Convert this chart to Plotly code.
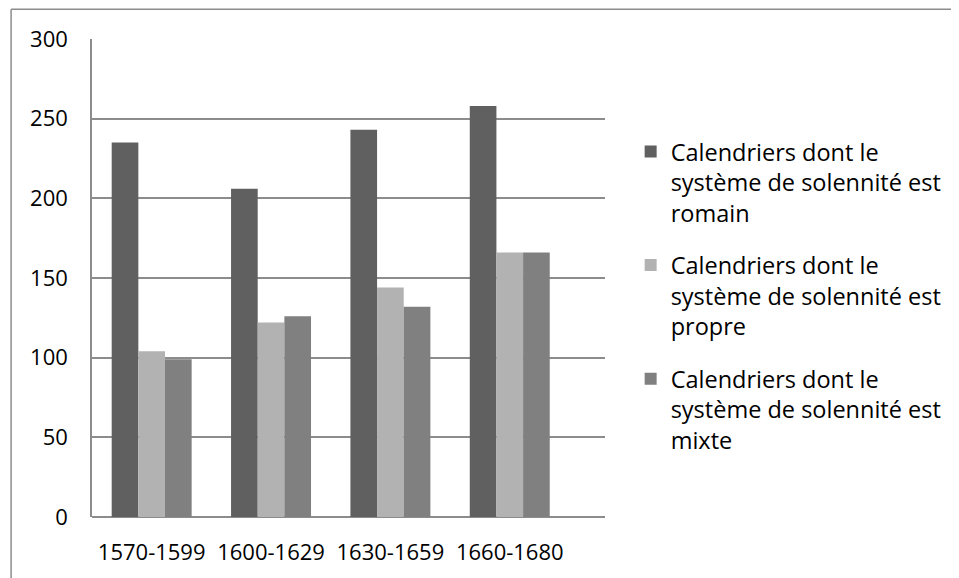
import plotly.graph_objects as go

categories = ["1570-1599", "1600-1629", "1630-1659", "1660-1680"]
romain = [235, 206, 243, 258]
propre = [104, 122, 144, 166]
mixte = [99, 126, 132, 166]
series_names = [
    "Calendriers dont le<br>système de solennité est<br>romain",
    "Calendriers dont le<br>système de solennité est<br>propre",
    "Calendriers dont le<br>système de solennité est<br>mixte",
]
colors = ["#606060", "#b2b2b2", "#808080"]
y_ticks = [0, 50, 100, 150, 200, 250, 300]

FONT = "Open Sans"
OFF = 8  # page body margin offset

fig = go.Figure()
for i, (name, vals, col) in enumerate(zip(series_names, [romain, propre, mixte], colors)):
    fig.add_trace(go.Bar(x=categories, y=vals, name=name, legendgroup=f"g{i}",
                         marker=dict(color=col, line=dict(width=0))))

W, H = 959 - OFF, 578 - OFF
L, T = 92 - OFF, 39 - OFF
Rx, By = 612 - OFF, 519 - OFF
R, B = W - Rx, H - By
pw, ph = Rx - L, By - T

def px(x):
    return (x - OFF - L) / pw

def py(y):
    return (By - (y - OFF)) / ph

fig.update_layout(
    width=W, height=H,
    margin=dict(l=L, r=R, t=T, b=B, pad=0),
    paper_bgcolor="white", plot_bgcolor="white",
    barmode="group", bargap=0.33, bargroupgap=0,
    font=dict(family=FONT, size=22, color="black"),
    legend=dict(x=px(638), y=py(130), xanchor="left", yanchor="top",
                font=dict(family=FONT, size=23.5, color="black"),
                traceorder="grouped", tracegroupgap=19, valign="top",
                bgcolor="rgba(0,0,0,0)"),
    xaxis=dict(range=[-0.5, 3.798], showgrid=False, showline=False,
               ticks="", ticklabelstandoff=20, zeroline=False,
               tickfont=dict(family=FONT, size=22, color="black")),
    yaxis=dict(range=[0, 300], tickvals=y_ticks, showgrid=True,
               gridcolor="#8c8c8c", gridwidth=1.5, showline=True,
               linecolor="#8c8c8c", linewidth=1.5, zeroline=True,
               zerolinecolor="#8c8c8c", zerolinewidth=1.5,
               ticks="", ticklabelstandoff=18,
               tickfont=dict(family=FONT, size=22, color="black")),
    shapes=[
        dict(type="line", xref="paper", yref="paper",
             x0=px(10), x1=px(10), y0=py(9), y1=py(700),
             line=dict(color="#8c8c8c", width=1.5)),
        dict(type="line", xref="paper", yref="paper",
             x0=px(10), x1=px(1100), y0=py(9), y1=py(9),
             line=dict(color="#8c8c8c", width=1.5)),
    ],
)

fig.write_html("out.html")
